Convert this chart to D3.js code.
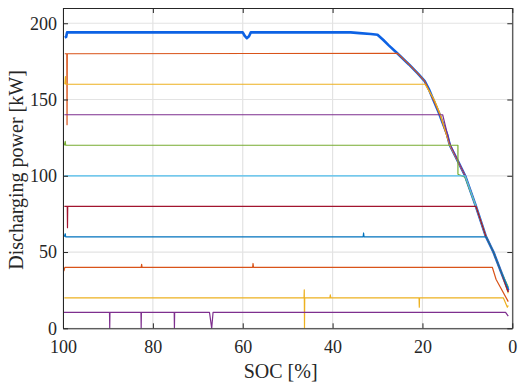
<!DOCTYPE html>
<html>
<head>
<meta charset="utf-8">
<script src="https://cdn.jsdelivr.net/npm/d3@7"></script>
<style>
  html, body { margin: 0; padding: 0; background: #ffffff; }
  svg { display: block; }
</style>
</head>
<body>
<svg id="chart" width="525" height="384"></svg>
<script>
// ---- data (SOC [%], power [kW]) ----
const xTicks = [100, 80, 60, 40, 20, 0];
const yTicks = [0, 50, 100, 150, 200];

const p194 = [[99.6,190.5],[99.3,191],[99.1,194],[60.0,194],[59.5,191.5],[59.1,190.2],[58.6,191.5],[58.2,194],[36,194],[34,193.5],[31.5,193],[30,192.5],[28.7,189],[27.5,185.5],[25.6,180.3],[23,173],[21,167],[19.5,162],[18.6,157],[17.6,150],[16.3,141],[15.8,137],[14.5,127],[13.9,120],[12,109],[10.5,100],[8.1,80],[5.85,60],[4.2,50],[2.5,37],[0.9,25]];
const p180 = [[99.6,180],[99.15,180],[99.1,133.5],[99.05,180],[25.6,180.3],[23,173],[21,167],[19.5,162],[17.6,150],[16.1,140],[13.9,120],[10.5,100],[8.1,80],[5.85,60],[4.2,50],[2.5,37],[0.9,24]];
const p160 = [[99.6,160],[99.45,165],[99.35,160],[19.4,160],[18.6,156],[17.4,150],[16.0,140],[13.9,120],[10.5,100],[8.1,80],[5.85,60],[4.2,50],[2.5,37],[0.9,23]];
const p140 = [[99.7,140],[15.5,140],[15.0,134],[14.0,122],[13.6,119],[10.5,100],[8.1,80],[5.85,60],[4.2,50],[2.5,37],[0.9,24]];
const p120 = [[99.7,120],[99.5,122.5],[99.4,120],[12.1,120],[12.1,101],[10.5,99],[8.1,80],[5.85,60],[4.2,50],[2.5,37],[0.9,27]];
const p100 = [[99.7,100],[10.5,100],[8.1,80],[5.85,60],[4.2,50],[2.5,37],[0.9,26]];
const p80  = [[99.7,80],[99.05,80],[99.0,66],[98.95,80],[8.1,80],[5.85,60],[4.2,50],[2.5,37],[0.9,24]];
const p60  = [[99.7,60],[99.5,62],[99.4,60],[33.2,60],[33.1,62.5],[33.0,60],[5.85,60],[4.2,50],[2.5,37],[0.9,26]];
const p40  = [[99.8,37.5],[99.6,40],[82.6,40],[82.5,42],[82.4,40],[57.8,40],[57.7,42.5],[57.6,40],[4.45,40],[3.6,32],[0.9,17.5]];
const p20  = [[99.7,20],[46.35,20],[46.3,25.2],[46.25,0],[46.2,20],[40.6,20],[40.5,22],[40.4,20],[20.75,20],[20.7,13.8],[20.65,20],[2.0,20],[1.1,13.8],[0.9,15]];
const p10  = [[99.8,10.5],[89.65,10.5],[89.6,0],[89.55,10.5],[82.65,10.5],[82.6,0],[82.55,10.5],[75.25,10.5],[75.2,0],[75.15,10.5],[67.4,10.5],[66.9,0],[66.6,10.5],[1.5,10.5],[0.9,8]];

const seriesList = [p194, p180, p160, p140, p120, p100, p80, p60, p40, p20, p10];
const seriesColors = ["#0d62e4", "#D95319", "#EDB120", "#7E2F8E", "#77AC30", "#4DBEEE", "#A2142F", "#0072BD", "#D95319", "#EDB120", "#7E2F8E"];
const seriesWidths = [2.6, 1.2, 1.2, 1.2, 1.2, 1.2, 1.2, 1.2, 1.2, 1.2, 1.2];

// ---- layout ----
const FONT = "'Liberation Serif', Tinos, 'Times New Roman', Times, 'DejaVu Serif', serif";
const pLeft = 63, pRight = 512.3, pTop = 8, pBottom = 328.3;
const svg = d3.select("#chart");
const x = d3.scaleLinear().domain([100, 0]).range([pLeft, pRight]);
const y = d3.scaleLinear().domain([0, 210]).range([pBottom, pTop]);

svg.append("defs").append("clipPath").attr("id", "clip")
  .append("rect").attr("x", pLeft).attr("y", pTop).attr("width", pRight - pLeft).attr("height", pBottom - pTop);

// grid
const grid = svg.append("g");
grid.selectAll(".gx").data(xTicks).join("line")
  .attr("x1", d => x(d)).attr("x2", d => x(d)).attr("y1", pTop).attr("y2", pBottom)
  .attr("stroke", "#e3e3e3").attr("stroke-width", 1.2);
grid.selectAll(".gy").data(yTicks).join("line")
  .attr("x1", pLeft).attr("x2", pRight).attr("y1", d => y(d)).attr("y2", d => y(d))
  .attr("stroke", "#e3e3e3").attr("stroke-width", 1.2);

// lines
const line = d3.line().x(d => x(d[0])).y(d => y(d[1]));
const plot = svg.append("g").attr("clip-path", "url(#clip)");
seriesList.forEach((s, i) => {
  plot.append("path").datum(s)
    .attr("d", line)
    .attr("fill", "none")
    .attr("stroke", seriesColors[i])
    .attr("stroke-width", seriesWidths[i])
    .attr("stroke-linejoin", "round");
});

// axes
const axisColor = "#262626";
function styleAxis(g) {
  g.attr("font-family", null).style("font-family", FONT);
  g.select(".domain").attr("stroke", axisColor).attr("stroke-width", 1);
  g.selectAll(".tick line").attr("stroke", axisColor).attr("stroke-width", 1);
  g.selectAll(".tick text").style("font-size", "18px")
    .style("font-family", FONT).attr("fill", axisColor);
}
svg.append("g").attr("transform", `translate(0,${pBottom})`)
  .call(d3.axisBottom(x).tickValues(xTicks).tickSize(-5).tickSizeOuter(0).tickPadding(12))
  .call(styleAxis);
svg.append("g").attr("transform", `translate(0,${pTop})`)
  .call(d3.axisTop(x).tickValues(xTicks).tickSize(-5).tickSizeOuter(0).tickFormat(""))
  .call(styleAxis);
svg.append("g").attr("transform", `translate(${pLeft},0)`)
  .call(d3.axisLeft(y).tickValues(yTicks).tickSize(-5).tickSizeOuter(0).tickPadding(6))
  .call(styleAxis);
svg.append("g").attr("transform", `translate(${pRight},0)`)
  .call(d3.axisRight(y).tickValues(yTicks).tickSize(-5).tickSizeOuter(0).tickFormat(""))
  .call(styleAxis);

// labels
svg.append("text").attr("x", (pLeft + pRight) / 2 - 7).attr("y", 378)
  .attr("text-anchor", "middle").style("font-size", "20px").style("font-family", FONT)
  .attr("fill", axisColor).text("SOC [%]");
svg.append("text").attr("transform", "translate(22.5,170) rotate(-90)")
  .attr("text-anchor", "middle").style("font-size", "20px").style("font-family", FONT)
  .attr("fill", axisColor).text("Discharging power [kW]");
</script>
</body>
</html>
